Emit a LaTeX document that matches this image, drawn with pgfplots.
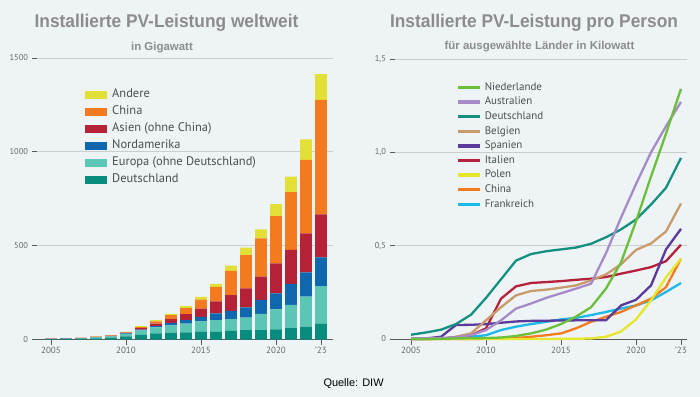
\documentclass[border=0pt]{standalone}
\usepackage{fontspec}
\setmainfont{PT Sans}
\newfontfamily\titlefont[FakeStretch=0.94]{Liberation Sans}
\newfontfamily\arialfont{Liberation Sans}
\usepackage{pgfplots}
\usepackage{pgfplotstable}
\pgfplotsset{compat=1.18}

\definecolor{bg}{HTML}{EEF4F5}
\definecolor{titlegray}{HTML}{8C8C8C}
\definecolor{legtext}{HTML}{4D4D4D}
\definecolor{ticktext}{HTML}{666666}
\definecolor{gridc}{HTML}{C9CDCE}
\definecolor{axisc}{HTML}{5A5A5A}
% bar colours
\definecolor{cAndere}{HTML}{E2E036}
\definecolor{cChina}{HTML}{F47A20}
\definecolor{cAsien}{HTML}{B52237}
\definecolor{cNA}{HTML}{0F68AE}
\definecolor{cEU}{HTML}{5BC6B4}
\definecolor{cDE}{HTML}{078C7D}
% line colours
\definecolor{lNL}{HTML}{6CBF3A}
\definecolor{lAU}{HTML}{A58BC8}
\definecolor{lDE}{HTML}{13907F}
\definecolor{lBE}{HTML}{C99A6B}
\definecolor{lES}{HTML}{5A3A9A}
\definecolor{lIT}{HTML}{B5213A}
\definecolor{lPL}{HTML}{E6E62A}
\definecolor{lCN}{HTML}{F47A20}
\definecolor{lFR}{HTML}{1CB8EA}

\pgfplotstableread{
year DE EU NA AS CN AN
2005 2 0.6 0.4 1.5 0.1 0.4
2006 2.8 0.8 0.5 1.9 0.1 0.5
2007 4 1.5 0.7 2.0 0.1 0.7
2008 6 5 1 2.5 0.2 1.3
2009 10 6 2 3 0.5 1.5
2010 17 13 3 4 1 3
2011 25 23 5 7 6 5
2012 33 31 7 14 11 7
2013 36 39 14 19 22 7
2014 38 47 18 32 32 11
2015 40 56 25 44 48 14
2016 41 62 36 64 78 16
2017 46 62 45 83 130 27
2018 50 67 54 101 178 39
2019 50 86 75 124 204 48
2020 54 107 85 160 252 64
2021 60 124 112 181 308 83
2022 68 160 130 208 391 110
2023 83 202 153 229 610 137
}\worldtable

\pgfplotsset{
  commonaxis/.style={
    scale only axis,
    axis x line*=bottom,
    axis y line*=left,
    y axis line style={draw=none},
    x axis line style={draw=axisc, line width=0.8bp},
    ymajorgrids,
    major grid style={gridc, line width=0.8bp},
    xtick={2005,2010,2015,2020,2023},
    xticklabels={2005,2010,2015,2020,{'23}},
    tick align=outside,
    major tick length=5.5bp,
    tick style={axisc, line width=0.7bp},
    x tick label style={font=\fontsize{9}{10}\selectfont, text=ticktext, yshift=1bp},
    y tick label style={font=\fontsize{8.5}{10}\selectfont, text=ticktext},
    /pgf/number format/assume math mode=true,
    /pgf/number format/1000 sep={},
    clip=false,
  }
}

\begin{document}
\begin{tikzpicture}
\path[use as bounding box] (0,0) rectangle (700bp,397bp);
\fill[bg] (0,0) rectangle (700bp,397bp);

% Titles
\node[anchor=base, font=\titlefont\bfseries\fontsize{18.5}{20}\selectfont, text=titlegray] at (166.5bp,369bp) {Installierte PV-Leistung weltweit};
\node[anchor=base, font=\titlefont\bfseries\fontsize{18.5}{20}\selectfont, text=titlegray] at (534bp,369bp) {Installierte PV-Leistung pro Person};
\node[anchor=base, font=\arialfont\bfseries\fontsize{11.5}{13}\selectfont, text=titlegray] at (162bp,346bp) {in Gigawatt};
\node[anchor=base, font=\arialfont\bfseries\fontsize{11.5}{13}\selectfont, text=titlegray] at (539.5bp,347.5bp) {für ausgewählte Länder in Kilowatt};

% Left chart
\begin{axis}[commonaxis,
  at={(37bp,57.5bp)}, anchor=south west,
  width=296bp, height=281.5bp,
  xmin=2004.067, xmax=2023.8,
  ymin=0, ymax=1500,
  ytick={0,500,1000,1500},
  ybar stacked, bar width=0.78,
  reverse legend,
  legend cell align=left,
  legend style={at={(0.152,0.908)}, anchor=north west, draw=none, fill=none,
    font=\fontsize{12.5}{14}\selectfont, text=legtext,
    nodes={text height=9bp, text depth=3bp, inner ysep=2.5bp, inner xsep=5bp},
    row sep=0bp},
  legend image code/.code={\fill[#1] (0bp,-4bp) rectangle (22bp,4bp);},
]
\addplot[fill=cDE, draw=none] table[x=year, y=DE] {\worldtable};
\addplot[fill=cEU, draw=none] table[x=year, y=EU] {\worldtable};
\addplot[fill=cNA, draw=none] table[x=year, y=NA] {\worldtable};
\addplot[fill=cAsien, draw=none] table[x=year, y=AS] {\worldtable};
\addplot[fill=cChina, draw=none] table[x=year, y=CN] {\worldtable};
\addplot[fill=cAndere, draw=none] table[x=year, y=AN] {\worldtable};
\legend{Deutschland, Europa (ohne Deutschland), Nordamerika, Asien (ohne China), China, Andere}
\end{axis}

% Right chart
\begin{axis}[commonaxis,
  at={(395bp,58bp)}, anchor=south west,
  width=292bp, height=280bp,
  xmin=2003.933, xmax=2023.4,
  ymin=0, ymax=1.5,
  ytick={0,0.5,1,1.5},
  yticklabels={0,{0,5},{1,0},{1,5}},
  reverse legend,
  legend cell align=left,
  legend style={at={(0.199,0.932)}, anchor=north west, draw=none, fill=none,
    font=\fontsize{11}{13}\selectfont, text=legtext,
    nodes={text height=8bp, text depth=2.6bp, inner ysep=2bp, inner xsep=3bp},
    row sep=0bp},
  legend image code/.code={\draw[#1, line width=3.5bp] (0bp,0bp) -- (22bp,0bp);},
  every axis plot/.append style={line width=2.3bp, line join=round, mark=none},
]
\addplot[lFR] coordinates {(2005,0)(2006,0.001)(2007,0.002)(2008,0.004)(2009,0.012)(2010,0.02)(2011,0.048)(2012,0.066)(2013,0.08)(2014,0.092)(2015,0.105)(2016,0.113)(2017,0.128)(2018,0.145)(2019,0.163)(2020,0.18)(2021,0.207)(2022,0.252)(2023,0.30)};
\addplot[lCN] coordinates {(2005,0)(2006,0)(2007,0)(2008,0)(2009,0)(2010,0.001)(2011,0.002)(2012,0.005)(2013,0.012)(2014,0.02)(2015,0.03)(2016,0.057)(2017,0.092)(2018,0.119)(2019,0.145)(2020,0.18)(2021,0.216)(2022,0.278)(2023,0.43)};
\addplot[lPL] coordinates {(2005,0)(2006,0)(2007,0)(2008,0)(2009,0)(2010,0)(2011,0)(2012,0)(2013,0)(2014,0)(2015,0.001)(2016,0.001)(2017,0.003)(2018,0.012)(2019,0.04)(2020,0.105)(2021,0.207)(2022,0.33)(2023,0.43)};
\addplot[lIT] coordinates {(2005,0)(2006,0)(2007,0.002)(2008,0.007)(2009,0.02)(2010,0.057)(2011,0.216)(2012,0.282)(2013,0.30)(2014,0.305)(2015,0.31)(2016,0.317)(2017,0.323)(2018,0.332)(2019,0.35)(2020,0.367)(2021,0.385)(2022,0.417)(2023,0.505)};
\addplot[lES] coordinates {(2005,0.001)(2006,0.003)(2007,0.012)(2008,0.075)(2009,0.076)(2010,0.08)(2011,0.087)(2012,0.094)(2013,0.097)(2014,0.098)(2015,0.099)(2016,0.1)(2017,0.1)(2018,0.1)(2019,0.18)(2020,0.21)(2021,0.287)(2022,0.48)(2023,0.59)};
\addplot[lBE] coordinates {(2005,0)(2006,0)(2007,0.002)(2008,0.012)(2009,0.03)(2010,0.1)(2011,0.17)(2012,0.234)(2013,0.257)(2014,0.264)(2015,0.275)(2016,0.287)(2017,0.314)(2018,0.346)(2019,0.40)(2020,0.477)(2021,0.512)(2022,0.576)(2023,0.726)};
\addplot[lDE] coordinates {(2005,0.023)(2006,0.035)(2007,0.05)(2008,0.08)(2009,0.13)(2010,0.22)(2011,0.32)(2012,0.42)(2013,0.455)(2014,0.47)(2015,0.48)(2016,0.49)(2017,0.51)(2018,0.545)(2019,0.587)(2020,0.64)(2021,0.72)(2022,0.81)(2023,0.97)};
\addplot[lAU] coordinates {(2005,0.003)(2006,0.004)(2007,0.005)(2008,0.01)(2009,0.02)(2010,0.048)(2011,0.1)(2012,0.163)(2013,0.19)(2014,0.22)(2015,0.245)(2016,0.27)(2017,0.296)(2018,0.46)(2019,0.65)(2020,0.83)(2021,1.0)(2022,1.14)(2023,1.27)};
\addplot[lNL] coordinates {(2005,0)(2006,0)(2007,0.001)(2008,0.003)(2009,0.004)(2010,0.005)(2011,0.008)(2012,0.016)(2013,0.03)(2014,0.05)(2015,0.08)(2016,0.12)(2017,0.17)(2018,0.27)(2019,0.41)(2020,0.63)(2021,0.87)(2022,1.10)(2023,1.34)};
\legend{Frankreich, China, Polen, Italien, Spanien, Belgien, Deutschland, Australien, Niederlande}
\end{axis}

\node[anchor=base west, font=\arialfont\fontsize{11}{13}\selectfont, text=black] at (320bp,11bp) {Quelle: DIW};
\end{tikzpicture}
\end{document}
